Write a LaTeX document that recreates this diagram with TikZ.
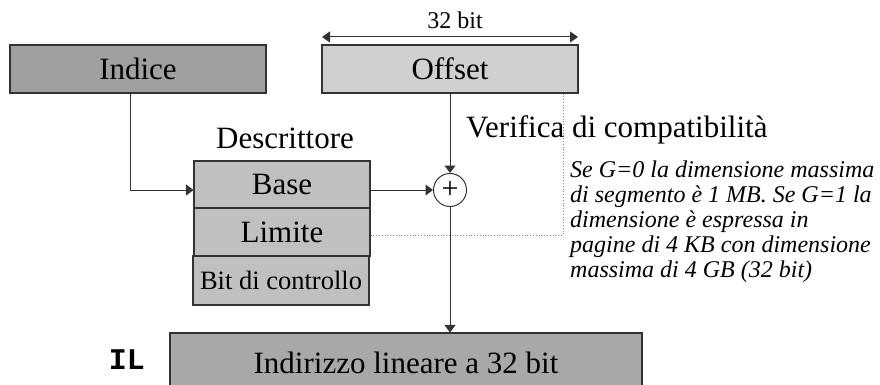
\documentclass[tikz,border=0pt]{standalone}
\usepackage{fontspec}
\setmainfont{Liberation Serif}
\newfontfamily\codefont{Liberation Mono}
\usetikzlibrary{arrows.meta}

\definecolor{boxdark}{HTML}{A0A0A0}
\definecolor{boxlight}{HTML}{D0D0D0}
\definecolor{boxmid}{HTML}{C0C0C0}
\definecolor{boxout}{HTML}{A8A8A8}
\definecolor{edge}{HTML}{333333}

\tikzset{
  field/.style={draw=edge, line width=1.1pt, inner sep=0pt, font=\fontsize{31}{34}\selectfont},
  conn/.style={draw=edge, line width=1pt, -{Triangle[length=7.5pt,width=11pt]}},
  guide/.style={draw=gray, line width=0.8pt, dotted},
  note/.style={inner sep=0pt, font=\fontsize{24}{25}\selectfont\itshape, align=left}
}

\begin{document}
\begin{tikzpicture}[x=1pt,y=-1pt]
  \useasboundingbox (0,0) rectangle (880,385);

  % input fields
  \node[field, fill=boxdark, minimum width=256pt, minimum height=48pt] (ind) at (138,69) {Indice};
  \node[field, fill=boxlight, minimum width=256pt, minimum height=48pt] (off) at (450,69) {Offset};

  % width marker above the offset
  \coordinate (wl) at (322,37);
  \coordinate (wr) at (578,37);
  \draw[draw=edge, line width=1pt, {Triangle[length=8pt,width=11pt]}-{Triangle[length=8pt,width=11pt]}] (wl) -- (wr);
  \node[inner sep=0pt, anchor=base, font=\fontsize{24}{26}\selectfont] (wlab) at (455,29) {32 bit};

  % segment descriptor
  \node[inner sep=0pt, anchor=base, font=\fontsize{31}{34}\selectfont] (dlab) at (285,148) {Descrittore};
  \node[field, fill=boxmid, minimum width=176pt, minimum height=47pt] (base) at (282,184.5) {Base};
  \node[field, fill=boxmid, minimum width=176pt, minimum height=48pt] (lim) at (282,232) {Limite};
  \node[field, fill=boxmid, minimum width=176pt, minimum height=49pt, font=\fontsize{26.5}{30}\selectfont] (ctl) at (281,280.5) {Bit di controllo};

  % adder
  \node[draw=edge, line width=1pt, fill=white, circle, minimum size=33pt, inner sep=0pt,
        font=\fontsize{30}{30}\selectfont] (sum) at (450,190) {+};

  % linear address
  \node[field, fill=boxout, minimum width=472pt, minimum height=60pt] (il) at (406,363) {Indirizzo lineare a 32 bit};
  \node[inner sep=0pt, font=\codefont\bfseries\fontsize{30}{30}\selectfont] (iltag) at (127,360) {IL};

  % connections
  \draw[conn] ([xshift=-8pt]ind.south) |- (base.west |- sum.west);
  \draw[conn] (base.east |- sum.west) -- (sum.west);
  \draw[conn] (off.south -| sum.north) -- (sum.north);
  \draw[conn] (sum.south) -- (sum.south |- il.north);

  % limit check
  \coordinate (chk) at (563,235);
  \draw[guide] (lim.east |- chk) -- (chk) -- (chk |- off.south);
  \node[inner sep=0pt, anchor=base west, font=\fontsize{31}{34}\selectfont] (vlab) at (466,137) {Verifica di compatibilità};
  \node[note, anchor=north west] (gnote) at (570,160.5) {Se G=0 la dimensione massima\\di segmento è 1 MB. Se G=1 la\\dimensione è espressa in\\pagine di 4 KB con dimensione\\massima di 4 GB (32 bit)};
\end{tikzpicture}
\end{document}
